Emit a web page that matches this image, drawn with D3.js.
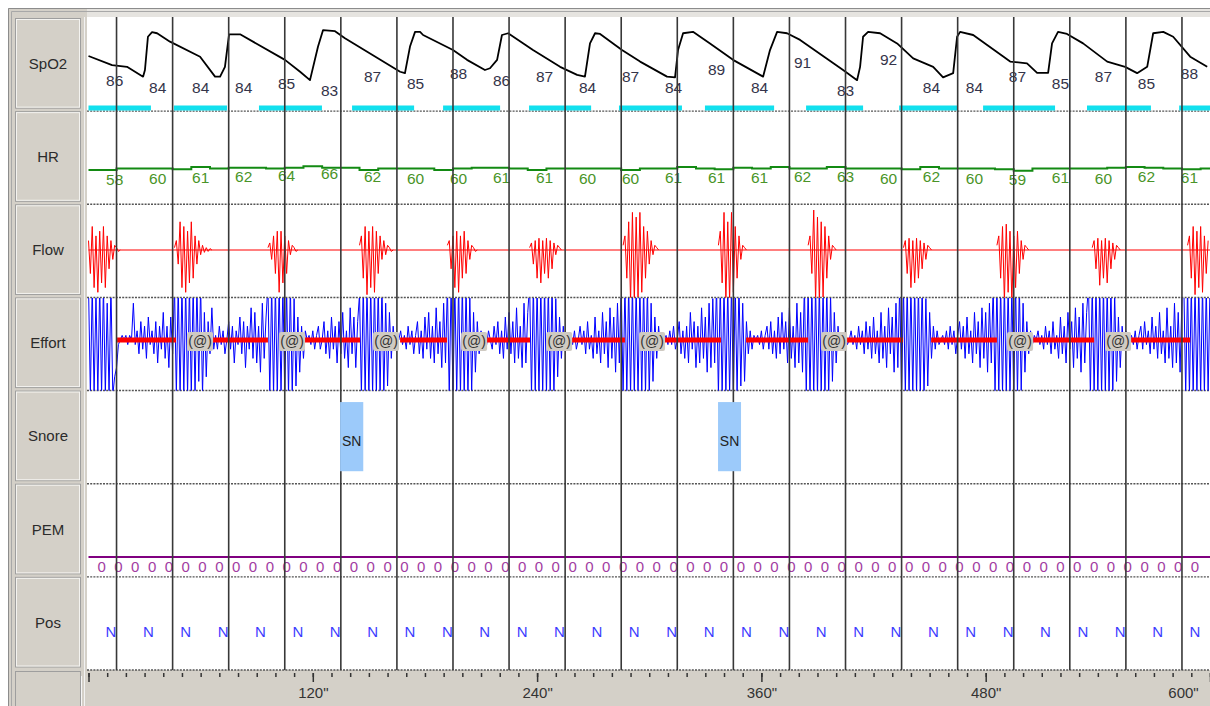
<!DOCTYPE html>
<html><head><meta charset="utf-8">
<script src="https://cdn.jsdelivr.net/npm/d3@7"></script>
<style>
html,body{margin:0;padding:0;background:#fff;}
svg{display:block;font-family:"Liberation Sans",Arial,sans-serif;}
</style></head><body>
<svg id="c" width="1210" height="706"></svg>
<script>
// ---------------- DATA ----------------
const rows = ["SpO2","HR","Flow","Effort","Snore","PEM","Pos"];
const timeTicks = [0,120,240,360,480,600];
const minorStep = 10;
const epochLines = [15,45,75,105,135,165,195,225,255,285,315,345,375,405,435,465,495,525,555,585];

const spo2Time = [0,12.6,20.6,29.2,30.2,31.8,34,36.7,43.6,59.7,67.7,70.4,73,75.2,81.1,105.1,113.2,118.5,122.8,125.5,131.9,137.2,166.7,169.3,172,174.7,177.4,179,195,202.5,212.1,214.8,218.6,221.2,224.5,237.8,252.3,261.4,265.6,268.3,271,273.7,285.4,295.1,309.5,313.8,315.4,318.1,323.4,332.5,344.8,360.9,364.6,368.4,373.7,380.7,403.7,411.2,412.8,414.4,417.1,423.5,432.6,441.2,451.9,457.2,462.6,464.7,466.3,473.3,493.1,502.1,507.5,513.4,515.5,518.7,523.5,532.1,545,554.6,561,566.4,569.6,575,580.3,589.4,598.5];
const spo2Value = [90,87.4,86.9,84.1,86,95.5,96.8,96.5,94.1,89.8,84.1,84.1,86.9,96.2,96.2,88.9,85.5,83.1,92.7,97.4,97.1,95.1,85.5,85.1,92.7,96.9,96.9,96,91.7,88.9,86,86.5,88.9,96,96.5,91.7,86.9,84.6,84.1,93.6,96.5,96.3,91.7,88.4,84.1,83.9,91.7,96.5,96.9,93.6,88.9,84.1,91.7,96.9,96.5,94.6,86,83.1,86.9,95.5,96.9,96.5,93.6,89.3,86.9,83.9,85.1,95.5,96.9,96,88.4,87.9,85.2,85.2,93.6,96.9,96.3,93.6,88.4,86.9,85.1,86.9,96.5,96.9,95.5,89.8,86.9];

const labelTimes = [14,37,60,83,106,129,152,175,198,221,244,267,290,313,336,359,382,405,428,451,474,497,520,543,566,589];
const spo2Labels = [86,84,84,84,85,83,87,85,88,86,87,84,87,84,89,84,91,83,92,84,84,87,85,87,85,88];
const hrLabels = [58,60,61,62,64,66,62,60,60,61,61,60,60,61,61,61,62,63,60,62,60,59,61,60,62,61];

const desatStart = [0,45.7,91.2,141,189.7,235.7,283.8,329.8,383.9,433.7,478.6,534.2,583.5];
const desatEnd   = [33.4,74.1,124.9,174.2,220.2,268.9,317.5,366.8,414.4,464.7,517.1,568.4,600];

const hrTime = [0,10,20,30,40,50,60,70,80,90,100,110,120,130,140,150,160,170,180,190,200,210,220,230,240,250,260,270,280,290,300,310,320,330,340,350,360,370,380,390,400,410,420,430,440,450,460,470,480,490,500,510,520,530,540,550,560,570,580,590,600];
const hrValue = [58,58,60,60,60,59,62,60,61,61,60,61,63,61,61,58,60,60,60,58,60,61,61,60,58,60,60,60,60,58,60,60,62,60,59,61,60,62,60,60,62,60,60,60,59,62,60,60,60,59,57,60,60,60,60,61,62,61,60,59,60];

const flowStarts = [0,46,96,145,192,236,286,337,385,436,486,537,588];
const flowBursts = [
  [2,-5,5,-8,3,-9,4,-7,5,-8,3,-4,2,-2,1,0.5,-0.3,0],
  [0.5,2,-3,6,-8,5,-9,4,-7,6,-6,3,-3,2,-1,1,-0.5,0.5,-0.3,0.3,0],
  [0.5,1.5,-2,3,-5,4,-9,4,-7,3,-5,2,-1,1,0.5,-0.3,0],
  [1,3,-6,5,-9.5,4,-8,5,-9,4,-5,3,-2,2,-1,1,0.5,-0.3,0],
  [1,2,-4,3,-8,4,-9,3,-6,4,-5,2,-2,1,0.5,-0.3,0],
  [0.5,1.5,-3,2,-6,2.5,-7,2,-5,2.5,-6,2,-4,1.5,-1,1,0.5,0],
  [1,3,-6,6,-11,8,-11,7,-10,8,-9,5,-6,4,-3,2,-1,1,0.5,0],
  [1,4,-7,8,-11,6,-11,8,-9,5,-6,3,-2,1,0.5,0],
  [1,3,-5,8.5,-11,7,-11,6,-10,5,-6,3,-2,1,0.5,0],
  [0.5,2,-5,2.5,-8,2,-7,2.5,-6,2,-4,1.5,-2,1,0.5,0],
  [1,3,-6,5,-11,5.5,-9,4,-11,3,-8,4,-5,2,-2,1,0.5,0],
  [0.5,2,-4,2.5,-7.5,2,-6,2.5,-7,2,-4,1.5,-2,1,0.5,0],
  [1,3,-6,5,-9.5,4,-8,5,-9,3,-5,2]
];

const effortStarts = [0,46,96,145,192,236,285,336,383,434,484,535,586];
const effortCycles = [
  [12,-12,12,-12,10,-12,12,-12,12,-12,8,-12,12,-12,-8,-6,-1, 0,1,0,1,-1,1,0,8,-1,2,-3,4,-2,3,-4,5,-1,2,-3,4,-5,3,-2,6,-4,3,-6,5,-3],
  [12,-12,12,-12,12,-12,12,-12,12,-12,12,-12,12,-9,12,-12, 6,-8,4,-3,7,-2, 1,-2,3,-1,2,-3,0,4,-2,3,-5,2,-1,5,-3,4,-6,3,-2,7,-4,6,-5,3,-7,8,-4,5],
  [12,-12,12,-12,12,-12,12,-12,12,-12,11,-12,12,-12,9,-10, 5,-7,3,-4,2, 0,1,-1,2,-2,1,3,-2,0,4,-3,2,-4,5,-2,3,-5,4,-3,6,-4,2,-6,7,-3,5,-6,4],
  [10,-12,12,-12,12,-12,12,-12,12,-12,12,-12,12,-12,8,-10,6, -4,3,-2,1, 0,2,-1,1,-2,3,-1,2,-3,1,4,-3,2,-4,5,-2,6,-4,3,-5,7,-3,4,-6,8,-5],
  [12,-12,12,-12,12,-12,12,-12,12,-12,12,-12,10,-11,6,-7, 4,-3,2,-1, 1,-1,2,0,-2,3,-1,4,-3,2,-4,5,-2,6,-3,4,-5,7,-4,3,-6,8,-5,6],
  [12,-12,12,-12,12,-12,12,-12,12,-12,12,-12,12,-12,9,-8,5, -4,3,-2,1, 0,1,-1,2,-2,0,3,-1,2,-3,4,-2,1,-4,5,-3,2,-5,6,-3,4,-6,7,-4,5,-7,8,-5],
  [12,-12,12,-12,12,-12,12,-12,12,-12,12,-12,12,-12,12,-12,8,-9,5, -4,3,-2,1, 0,1,-1,2,-1,3,-2,0,4,-3,2,-4,3,-5,6,-2,4,-6,3,-5,7,-4,5,-7,8,-6,9,-5],
  [12,-12,12,-12,12,-12,12,-12,12,-12,12,-12,12,-10,8,-9,4, -3,2,-2,1, 0,1,-1,2,-2,1,3,-2,4,-3,2,-4,5,-3,6,-2,4,-5,7,-4,3,-6,8,-5,6,-7],
  [12,-12,12,-12,12,-12,12,-12,12,-12,12,-12,12,-12,10,-9,6,-5, 3,-2,1,0, 1,-1,0,2,-1,1,-2,3,-1,2,-3,4,-2,3,-4,5,-3,2,-5,6,-4,3,-6,7,-3,5,-7,8,-6],
  [12,-12,12,-12,12,-12,12,-12,12,-12,12,-12,12,-12,9,-10,6,-4, 3,-2,2,-1, 0,1,-1,2,-2,3,-1,2,-3,1,4,-2,3,-4,5,-3,2,-5,6,-3,4,-6,7,-4,6,-7,8,-5],
  [12,-12,12,-12,12,-12,12,-12,12,-12,12,-12,12,-12,12,-11,8,-7,4, -3,2,-1,1, 0,2,-1,1,-2,3,-1,2,-3,4,-2,1,-4,5,-3,3,-5,6,-2,4,-6,7,-4,5,-7,8,-5,6],
  [12,-12,12,-12,12,-12,12,-12,12,-12,12,-12,12,-12,10,-9,5,-6, 3,-2,2,-1, 0,1,-1,2,-2,1,3,-2,4,-1,2,-3,5,-2,3,-4,6,-3,2,-5,7,-4,3,-6,8,-5,6,-7,9],
  [12,-12,12,-12,12,-12,12,-12,12,-12,12,-12,12,-12,12]
];

const apneaStart = [15.3,66.6,115.8,166.7,213.2,257.6,307.9,351.8,404.8,450.8,505.4,557.8];
const apneaEnd   = [46.8,96,145.3,191.8,236.2,287,338.4,385,435.8,486,538,589.4];
const arousalTimes = [59.7,108.9,159.2,206.3,251.8,301.5,398.9,498.4,550.8];

const snoreStart = [134.6,336.8];
const snoreEnd = [147,349.1];

const pemTimes = [7,16,25,34,43,52,61,70,79,88,97,106,115,124,133,142,151,160,169,178,187,196,205,214,223,232,241,250,259,268,277,286,295,304,313,322,331,340,349,358,367,376,385,394,403,412,421,430,439,448,457,466,475,484,493,502,511,520,529,538,547,556,565,574,583,592];
const pemValue = 0;
const posTimes = [12,32,52,72,92,112,132,152,172,192,212,232,252,272,292,312,332,352,372,392,412,432,452,472,492,512,532,552,572,592];
const posValue = "N";

// ---------------- SCALES ----------------
const W = 1210, H = 706;
const x = d3.scaleLinear().domain([0,600]).range([88.5,1210]);
const rowY = d3.scaleBand().domain(rows).range([18,670]);
const bw = rowY.bandwidth();
const spo2Y = d3.scaleLinear().domain([80,100]).range([91,21]);
const hrY = d3.scaleLinear().domain([40,80]).range([183.5,153.5]);
const flowY = d3.scaleLinear().domain([-10,10]).range([297,203]);
const effortY = d3.scaleLinear().domain([-10,10]).range([386,294]);
const pemY = d3.scaleLinear().domain([0,20]).range([557,490]);

const svg = d3.select("#c");
const defs = svg.append("defs");
function clip(id, x0, y0, w, h){
  defs.append("clipPath").attr("id",id).append("rect").attr("x",x0).attr("y",y0).attr("width",w).attr("height",h);
  return "url(#"+id+")";
}
const chartClip = clip("chart",87,17,W-87,653);
const flowClip = clip("flowc",87,rowY("Flow"),W-87,bw);
const effClip = clip("effc",87,rowY("Effort")+0.5,W-87,bw-0.5);

// ---------------- FRAME ----------------
svg.append("rect").attr("width",W).attr("height",H).attr("fill","#fff");
svg.append("rect").attr("x",8).attr("y",8).attr("width",W-8).attr("height",10).attr("fill","#e6e4e0");
svg.append("rect").attr("x",8).attr("y",8).attr("width",79).attr("height",H-8).attr("fill","#d4d0c8");
[[8.5,"#8c8c8c"],[11.5,"#a8a8a8"]].forEach(([v,c])=>{
  svg.append("line").attr("x1",v).attr("x2",W).attr("y1",v).attr("y2",v).attr("stroke",c);
  svg.append("line").attr("x1",v).attr("x2",v).attr("y1",v).attr("y2",H).attr("stroke",c);
});
svg.append("rect").attr("x",87).attr("y",17).attr("width",W-87).attr("height",653).attr("fill","#fff");
svg.append("rect").attr("x",87).attr("y",670).attr("width",W-87).attr("height",36).attr("fill","#d4d0c8");
svg.append("line").attr("x1",84.5).attr("x2",84.5).attr("y1",17).attr("y2",H).attr("stroke","#f2f2f2");

// label boxes
rows.forEach(r=>{
  const y0 = rowY(r);
  svg.append("rect").attr("x",15.5).attr("y",y0+0.5).attr("width",65).attr("height",bw-3.5)
    .attr("fill","#d4d0c8").attr("stroke","#9e9e9e");
  svg.append("rect").attr("x",16.5).attr("y",y0+1.5).attr("width",63).attr("height",bw-5.5)
    .attr("fill","none").attr("stroke","#f4f3f0");
  svg.append("text").attr("x",48).attr("y",y0+bw/2-1).attr("dy","0.35em").attr("text-anchor","middle")
    .attr("font-size",15).attr("fill","#2b2b2b").text(r);
});
svg.append("rect").attr("x",15.5).attr("y",671.5).attr("width",65).attr("height",40)
  .attr("fill","#d4d0c8").attr("stroke","#9e9e9e");
svg.append("line").attr("x1",81.5).attr("x2",81.5).attr("y1",676).attr("y2",H).attr("stroke","#f6f6f6");

// dotted row lines
const sepY = rows.slice(1).map(r=>rowY(r)).concat([670]);
svg.append("g").selectAll("line").data(sepY).join("line")
  .attr("x1",87).attr("x2",W).attr("y1",d=>d).attr("y2",d=>d)
  .attr("stroke","#555").attr("stroke-width",1.4).attr("stroke-dasharray","2,1.2");

const g = svg.append("g").attr("clip-path",chartClip);

// ---------------- SpO2 ----------------
g.append("g").selectAll("rect").data(desatStart).join("rect")
  .attr("x",(d)=>x(d)).attr("width",(d,i)=>x(desatEnd[i])-x(d))
  .attr("y",105.5).attr("height",5).attr("fill","#12e0ee");
g.append("path").datum(spo2Time.map((t,i)=>[t,spo2Value[i]]))
  .attr("d",d3.line().x(d=>x(d[0])).y(d=>spo2Y(d[1])))
  .attr("fill","none").attr("stroke","#000").attr("stroke-width",1.8).attr("stroke-linejoin","round");
g.append("g").selectAll("text").data(spo2Labels).join("text")
  .attr("x",(d,i)=>x(labelTimes[i])).attr("y",d=>spo2Y(d)+10.5).attr("dy","0.35em")
  .attr("text-anchor","middle").attr("font-size",15.5).attr("fill","#34344a").text(d=>d);

// ---------------- HR ----------------
g.append("path").datum(hrTime.map((t,i)=>[t,hrValue[i]]))
  .attr("d",d3.line().curve(d3.curveStep).x(d=>x(d[0])).y(d=>hrY(d[1])))
  .attr("fill","none").attr("stroke","#138a13").attr("stroke-width",2);
g.append("g").selectAll("text").data(hrLabels).join("text")
  .attr("x",(d,i)=>x(labelTimes[i])).attr("y",d=>hrY(d)+10).attr("dy","0.35em")
  .attr("text-anchor","middle").attr("font-size",15.5).attr("fill","#4a9428").text(d=>d);

// ---------------- Flow ----------------
const fg = g.append("g").attr("clip-path",flowClip);
fg.append("line").attr("x1",x(0)).attr("x2",x(600)).attr("y1",flowY(0)).attr("y2",flowY(0))
  .attr("stroke","#ff0000").attr("stroke-width",1.2);
const flowLine = d3.line().x(d=>x(d[0])).y(d=>flowY(d[1]));
flowBursts.forEach((arr,i)=>{
  fg.append("path").datum(arr.map((v,j)=>[flowStarts[i]+j,v]))
    .attr("d",flowLine).attr("fill","none").attr("stroke","#ff0000").attr("stroke-width",1);
});

// ---------------- Effort ----------------
const eg = g.append("g").attr("clip-path",effClip);
const effortPts = [];
effortCycles.forEach((arr,i)=>arr.forEach((v,j)=>effortPts.push([effortStarts[i]+j,v])));
eg.append("path").datum(effortPts)
  .attr("d",d3.line().x(d=>x(d[0])).y(d=>effortY(d[1])))
  .attr("fill","none").attr("stroke","#0000ff").attr("stroke-width",1);
eg.append("g").selectAll("rect").data(apneaStart).join("rect")
  .attr("x",d=>x(d)).attr("width",(d,i)=>x(apneaEnd[i])-x(d))
  .attr("y",effortY(0)-2.5).attr("height",5).attr("fill","#ff0000");

// ---------------- PEM ----------------
g.append("line").attr("x1",x(0)).attr("x2",x(600)).attr("y1",pemY(pemValue)).attr("y2",pemY(pemValue))
  .attr("stroke","#800080").attr("stroke-width",2);
g.append("g").selectAll("text").data(pemTimes).join("text")
  .attr("x",d=>x(d)).attr("y",pemY(pemValue)+10).attr("dy","0.35em").attr("text-anchor","middle")
  .attr("font-size",15).attr("fill","#a23ca2").text(pemValue);

// ---------------- Pos ----------------
g.append("g").selectAll("text").data(posTimes).join("text")
  .attr("x",d=>x(d)).attr("y",rowY("Pos")+bw/2+8).attr("dy","0.35em").attr("text-anchor","middle")
  .attr("font-size",15).attr("fill","#3c3cff").text(posValue);

// ---------------- epoch lines ----------------
g.append("g").selectAll("line").data(epochLines).join("line")
  .attr("x1",d=>x(d)).attr("x2",d=>x(d)).attr("y1",17).attr("y2",671)
  .attr("stroke","#383838").attr("stroke-width",1.6);

// ---------------- Snore ----------------
const sg = g.append("g");
snoreStart.forEach((s,i)=>{
  const y0 = rowY("Snore");
  sg.append("rect").attr("x",x(s)).attr("width",x(snoreEnd[i])-x(s))
    .attr("y",y0+11.5).attr("height",bw-24).attr("fill","#9ccafa");
  sg.append("text").attr("x",(x(s)+x(snoreEnd[i]))/2).attr("y",y0+bw/2+4).attr("dy","0.35em")
    .attr("text-anchor","middle").attr("font-size",14).attr("fill","#222").text("SN");
});

// ---------------- arousal labels ----------------
const ag = g.append("g");
arousalTimes.forEach(t=>{
  const cx = x(t), cy = effortY(0)+1.5;
  ag.append("rect").attr("x",cx-13).attr("y",cy-9.5).attr("width",26).attr("height",19)
    .attr("rx",2).attr("fill","#cfcac2");
  ag.append("text").attr("x",cx).attr("y",cy).attr("dy","0.35em").attr("text-anchor","middle")
    .attr("font-size",14).attr("fill","#333").text("(@)");
});

// ---------------- time axis ----------------
const minorTicks = d3.range(0,601,minorStep);
const ax1 = svg.append("g").attr("transform","translate(0,673)")
  .call(d3.axisBottom(x).tickValues(minorTicks).tickSize(4).tickFormat(""));
ax1.select(".domain").remove();
ax1.selectAll("line").attr("stroke","#333").attr("stroke-width",1.5);
const ax2 = svg.append("g").attr("transform","translate(0,673)")
  .call(d3.axisBottom(x).tickValues(timeTicks).tickSize(9).tickPadding(5).tickFormat(d=>d===0?"":d+'"'));
ax2.select(".domain").remove();
ax2.selectAll("line").attr("stroke","#333").attr("stroke-width",1.5);
ax2.selectAll("text").attr("font-size",15).attr("fill","#333").attr("font-family","Liberation Sans, Arial, sans-serif");
ax2.selectAll(".tick").filter(d=>d===600).select("text").attr("x",-27);
</script>
</body></html>
